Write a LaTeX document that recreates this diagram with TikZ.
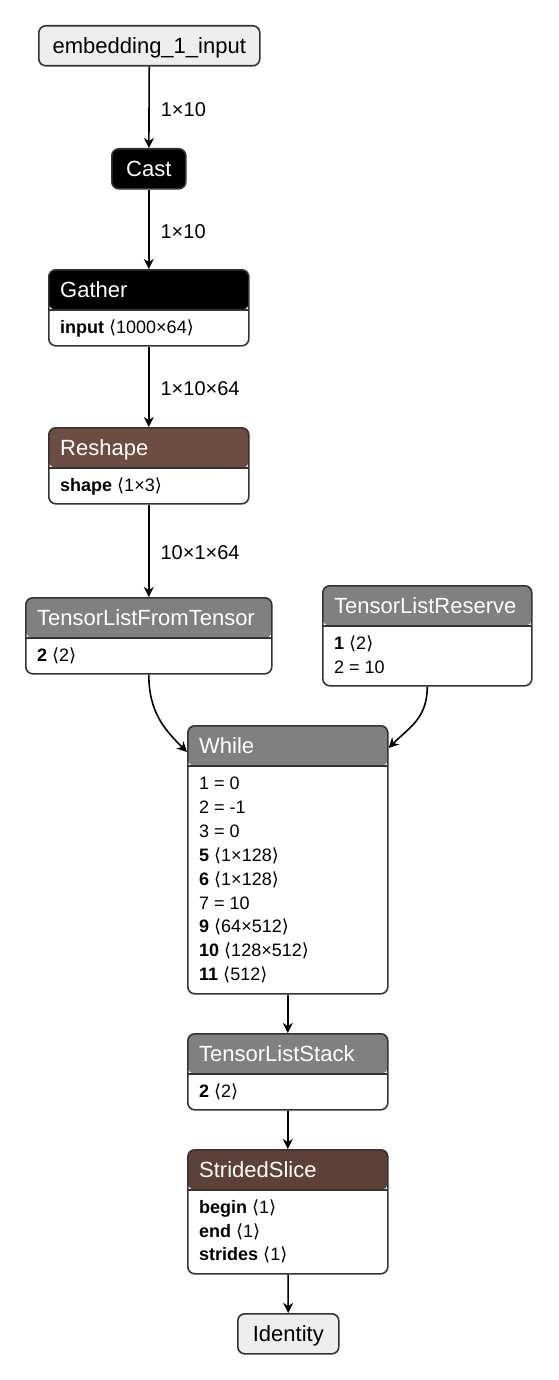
\documentclass[tikz,border=0pt]{standalone}
\usepackage{fontspec}
\setmainfont{Liberation Sans}
\newfontfamily\brfont{DejaVu Sans}
\usetikzlibrary{arrows.meta}
\usetikzlibrary{calc}

\definecolor{cborder}{HTML}{333333}
\definecolor{cinput}{HTML}{EEEEEE}
\definecolor{cgray}{HTML}{808080}
\definecolor{creshape}{HTML}{6D4C41}
\definecolor{cslice}{HTML}{5D4037}

\newcommand{\shp}[1]{{\brfont ⟨}#1{\brfont ⟩}}

\begin{document}
\begin{tikzpicture}[x=1pt, y=-1pt,
    term/.style={draw=cborder, line width=1.6pt, rounded corners=7pt, fill=cinput, inner sep=0pt, anchor=north west,
      minimum height=40pt, text height=16pt, text depth=0pt, font=\fontsize{22}{26}\selectfont},
    op/.style={draw=cborder, line width=1.6pt, rounded corners=7pt, fill=white, inner sep=0pt, anchor=north west},
    hdr/.style={path picture={
      \fill[#1] (path picture bounding box.north west) rectangle ([yshift=-40pt]path picture bounding box.north east);
      \draw[cborder, line width=1.6pt] ([yshift=-40pt]path picture bounding box.north west) -- ([yshift=-40pt]path picture bounding box.north east);}},
    ttl/.style={anchor=base west, inner sep=0pt, text=white, font=\fontsize{22}{26}\selectfont},
    attr/.style={anchor=base west, inner sep=0pt, font=\fontsize{18}{22}\selectfont},
    edge/.style={line width=1.6pt, -{Stealth[length=10pt, width=10pt, inset=3pt]}},
    elbl/.style={midway, anchor=west, xshift=11pt, yshift=-2pt, inner sep=0pt, font=\fontsize{20}{24}\selectfont}]
    \useasboundingbox (0,0) rectangle (558,1380);

    \node[term, minimum width=221pt] (input) at (38,25) {embedding\_1\_input};
    \node[term, fill=black, text=white, minimum width=74pt] (cast) at (111,148) {Cast};

    \node[op, hdr=black, minimum width=200pt, minimum height=76pt] (gather) at (48,269) {};
    \node[ttl] (gathert) at ($(gather.north west)+(12,28)$) {Gather};
    \node[attr] (gathera) at ($(gather.north west)+(12,64)$) {\textbf{input} \shp{1000×64}};

    \node[op, hdr=creshape, minimum width=200pt, minimum height=76pt] (reshape) at (48,427) {};
    \node[ttl] (reshapet) at ($(reshape.north west)+(12,28)$) {Reshape};
    \node[attr] (reshapea) at ($(reshape.north west)+(12,64)$) {\textbf{shape} \shp{1×3}};

    \node[op, hdr=cgray, minimum width=246pt, minimum height=76pt] (tlft) at (25,597) {};
    \node[ttl] (tlftt) at ($(tlft.north west)+(12,28)$) {TensorListFromTensor};
    \node[attr] (tlfta) at ($(tlft.north west)+(12,64)$) {\textbf{2} \shp{2}};

    \node[op, hdr=cgray, minimum width=209pt, minimum height=100pt] (tlr) at (322,585) {};
    \node[ttl] (tlrt) at ($(tlr.north west)+(12,28)$) {TensorListReserve};
    \node[attr] (tlra) at ($(tlr.north west)+(12,64)$) {\textbf{1} \shp{2}};
    \node[attr] (tlrb) at ($(tlr.north west)+(12,88)$) {2 = 10};

    \node[op, hdr=cgray, minimum width=200pt, minimum height=268pt] (while) at (187,725) {};
    \node[ttl] (whilet) at ($(while.north west)+(12,28)$) {While};
    \node[attr] (while1) at ($(while.north west)+(12,64)$) {1 = 0};
    \node[attr] (while2) at ($(while.north west)+(12,88)$) {2 = -1};
    \node[attr] (while3) at ($(while.north west)+(12,112)$) {3 = 0};
    \node[attr] (while5) at ($(while.north west)+(12,136)$) {\textbf{5} \shp{1×128}};
    \node[attr] (while6) at ($(while.north west)+(12,160)$) {\textbf{6} \shp{1×128}};
    \node[attr] (while7) at ($(while.north west)+(12,184)$) {7 = 10};
    \node[attr] (while9) at ($(while.north west)+(12,207)$) {\textbf{9} \shp{64×512}};
    \node[attr] (while10) at ($(while.north west)+(12,231)$) {\textbf{10} \shp{128×512}};
    \node[attr] (while11) at ($(while.north west)+(12,255)$) {\textbf{11} \shp{512}};

    \node[op, hdr=cgray, minimum width=200pt, minimum height=76pt] (tls) at (187,1033) {};
    \node[ttl] (tlst) at ($(tls.north west)+(12,28)$) {TensorListStack};
    \node[attr] (tlsa) at ($(tls.north west)+(12,64)$) {\textbf{2} \shp{2}};

    \node[op, hdr=cslice, minimum width=200pt, minimum height=124pt] (slice) at (187,1149) {};
    \node[ttl] (slicet) at ($(slice.north west)+(12,28)$) {StridedSlice};
    \node[attr] (slicea) at ($(slice.north west)+(12,64)$) {\textbf{begin} \shp{1}};
    \node[attr] (sliceb) at ($(slice.north west)+(12,88)$) {\textbf{end} \shp{1}};
    \node[attr] (slicec) at ($(slice.north west)+(12,111)$) {\textbf{strides} \shp{1}};

    \node[term, minimum width=101pt] (identity) at (237,1313) {Identity};

    \draw[edge] (input) -- node[elbl] {1×10} (cast);
    \draw[edge] (cast) -- node[elbl] {1×10} (gather);
    \draw[edge] (gather) -- node[elbl] {1×10×64} (reshape);
    \draw[edge] (reshape) -- node[elbl] {10×1×64} (tlft);
    \draw[edge] (tlft.south) .. controls +(0,38) and +(-22,-22) .. ($(while.north west)+(0,27)$);
    \draw[edge] (tlr.south) .. controls +(0,32) and +(20,-20) .. ($(while.north east)+(0,23)$);
    \draw[edge] (while) -- (tls);
    \draw[edge] (tls) -- (slice);
    \draw[edge] (slice) -- (identity);
\end{tikzpicture}
\end{document}
